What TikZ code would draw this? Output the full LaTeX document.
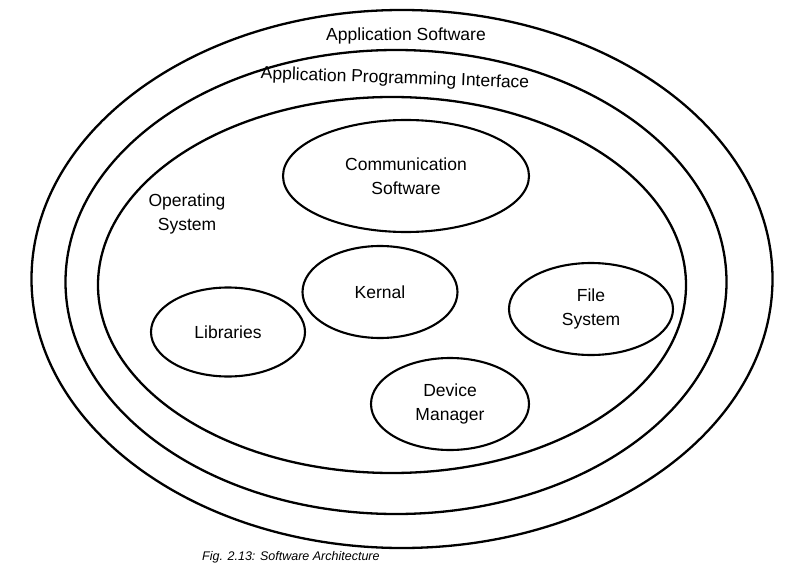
\documentclass[tikz,border=0pt]{standalone}
\usepackage{fontspec}
\setmainfont{Liberation Sans}
\usepackage{tikz}
\usetikzlibrary{shapes.geometric}

\begin{document}
\begin{tikzpicture}[x=1pt, y=-1pt,
    ring/.style={draw, ellipse, line width=2.3pt, inner sep=0pt},
    part/.style={draw, ellipse, line width=2.1pt, inner sep=0pt, align=center,
      font=\fontsize{17.5}{24}\selectfont},
    tag/.style={align=center, font=\fontsize{17.5}{24}\selectfont}]
    \useasboundingbox (0,0) rectangle (789,564);
    \fill[white] (0,0) rectangle (789,564);

    % layers
    \node[ring, minimum width=741pt, minimum height=538pt] (app) at (402,279) {};
    \node[ring, minimum width=661pt, minimum height=464pt] (api) at (396,282) {};
    \node[ring, minimum width=588pt, minimum height=376pt] (os) at (392,285) {};

    \node[tag] (applbl) at (406,36) {Application Software};
    \node[tag, rotate=-2] (apilbl) at (395,79) {Application Programming Interface};
    \node[tag] (oslbl) at (187,214) {Operating\\System};

    % parts of the OS
    \node[part, minimum width=246pt, minimum height=112pt] (comm) at (406,176) {Communication\\Software};
    \node[part, minimum width=155pt, minimum height=92pt] (kern) at (380,292) {Kernal};
    \node[part, minimum width=154pt, minimum height=89pt] (lib) at (228,332) {Libraries};
    \node[part, minimum width=164pt, minimum height=92pt] (fs) at (591,309) {File\\System};
    \node[part, minimum width=158pt, minimum height=92pt] (dev) at (450,404) {Device\\Manager};

    % caption
    \node[anchor=base west, inner sep=0pt, font=\fontsize{12.5}{14}\selectfont\itshape] (cap) at (202,560) {Fig. 2.13: Software Architecture};
\end{tikzpicture}
\end{document}
